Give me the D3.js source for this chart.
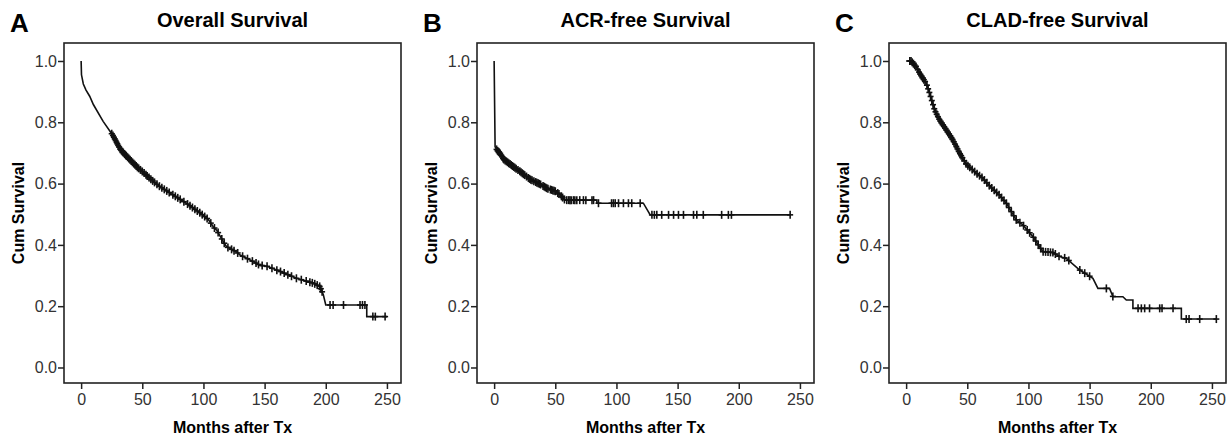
<!DOCTYPE html>
<meta charset="utf-8">
<html>
<head>
  <script src="https://d3js.org/d3.v7.min.js" charset="utf-8"></script>
</head>

<style>
* {
    font-family: "Liberation Sans", Arial, sans-serif;
}
body {
    margin: 0;
    background-color: white;
}
.tick text {
    font-size: 16px;
    fill: #333;
}
.tick line {
    stroke: #222;
    stroke-width: 1.5;
}
.frame {
    fill: none;
    stroke: #222;
    stroke-width: 1.6;
}
.curve {
    fill: none;
    stroke: #111;
    stroke-width: 1.6;
}
.censor {
    stroke: #111;
    stroke-width: 1.6;
}
.letter {
    font-size: 26px;
    font-weight: bold;
}
.title {
    font-size: 20px;
    font-weight: bold;
    text-anchor: middle;
}
.label {
    font-size: 16px;
    font-weight: bold;
    text-anchor: middle;
}
</style>

<body>
<div id="container"></div>

<script type="text/javascript">

// axis ticks
var monthTicks = [0, 50, 100, 150, 200, 250];
var survTicks = [0.0, 0.2, 0.4, 0.6, 0.8, 1.0];

var panelLetters = ["A", "B", "C"];
var panelTitles = ["Overall Survival", "ACR-free Survival", "CLAD-free Survival"];

// [months, cum survival]
var overallCurve = [[0, 1.0], [0.3, 0.955], [1.8, 0.925], [4, 0.905], [7, 0.885], [10, 0.858], [18, 0.803],
    [26, 0.757], [32, 0.712], [37, 0.69], [45.5, 0.655], [51, 0.636], [59, 0.607], [64.5, 0.59],
    [78, 0.556], [86, 0.536], [97, 0.505], [104, 0.483], [108, 0.459], [111, 0.447], [117.5, 0.402],
    [119, 0.394], [127, 0.377], [130, 0.367], [141, 0.345], [146, 0.334], [152, 0.33], [163, 0.313],
    [176, 0.291], [190, 0.275], [195.3, 0.264], [198, 0.237], [200, 0.204], [233.5, 0.204],
    [233.5, 0.166], [250, 0.166]];
var overallCensored = [25, 26, 26.8, 27.5, 28.2, 29, 29.6, 30.3, 31, 32, 33, 33.8, 34.5, 35.5, 36.3,
    37, 38, 39, 40, 41, 42, 43, 44, 45, 46, 47, 48.5, 50, 51.5, 53, 54, 55.5, 57, 58.5, 60, 62, 64,
    66, 68, 70, 72, 75, 77, 79, 81, 84, 87, 89, 91, 93, 95, 97, 99, 101, 103, 106, 109, 112, 115,
    117, 120, 123, 125, 128, 132, 136, 140, 143, 145, 148, 152, 156, 160, 163, 166, 169, 172, 176,
    180, 184, 187, 189, 191, 193, 195, 196, 197, 203.5, 206, 214.5, 228, 230, 232, 238.5, 240.5, 248.5];

var acrCurve = [[0, 1.0], [0.8, 0.72], [2.5, 0.708], [4.9, 0.699], [7.6, 0.68], [15.8, 0.655],
    [21, 0.64], [29.4, 0.614], [37.6, 0.598], [43, 0.585], [50, 0.575], [54, 0.563], [58, 0.546],
    [84, 0.546], [84, 0.536], [122, 0.536], [127.6, 0.498], [242, 0.498]];
var acrCensored = [2, 2.8, 3.5, 4.2, 5, 5.8, 6.5, 7.3, 8, 9, 10, 11, 12, 13, 14, 15, 16, 17, 18,
    19.5, 21, 22, 23, 24, 25, 26.5, 28, 29, 30, 31, 32.5, 34, 35, 36, 37, 38, 40, 41, 42, 43, 44,
    46, 47, 48, 49, 50, 52, 53, 55, 56, 57.5, 59.4, 61, 62, 63, 64.8, 66, 67.6, 70, 73, 75, 80,
    81.3, 85.3, 96, 97.5, 99, 101.7, 105.7, 109.8, 112.5, 119.4, 129, 131, 133, 137, 142.6, 146.7,
    150.7, 154.8, 163, 165.7, 171, 186, 191.5, 194, 242];

var cladCurve = [[0, 1.0], [4, 1.0], [8.3, 0.981], [11, 0.96], [16.5, 0.927], [19.2, 0.895],
    [23.3, 0.84], [27.4, 0.807], [32.9, 0.775], [38.3, 0.742], [43.8, 0.699], [49.2, 0.663],
    [57.4, 0.634], [62.8, 0.617], [68.3, 0.592], [76.4, 0.562], [81.9, 0.536], [90.1, 0.481],
    [95.5, 0.465], [103.7, 0.427], [108, 0.4], [111.9, 0.378], [120, 0.375], [125.5, 0.362],
    [131, 0.356], [141.9, 0.318], [152.7, 0.291], [156.8, 0.258], [166.3, 0.258], [169.1, 0.231],
    [177.2, 0.231], [180, 0.22], [185.4, 0.22], [185.4, 0.193], [225, 0.193], [225, 0.158],
    [253.6, 0.158]];
var cladCensored = [3, 4, 5, 6, 7, 8, 9.5, 10.5, 11.5, 12.5, 13.5, 14.5, 15.5, 17, 18, 19, 20, 21,
    22, 23, 24, 25, 26, 27, 28, 29, 30, 31, 32, 33, 34, 35, 36, 37, 38, 39, 40, 41, 42, 43, 44, 45,
    46, 47.5, 49, 50.5, 52, 54, 56, 58, 60, 62, 64, 66, 68, 70, 72, 74, 76, 78, 80, 82, 84, 86, 88,
    90, 93, 96, 99, 101, 104, 106, 108, 110, 112, 114, 116, 118, 120, 122, 125, 129.6, 133, 142,
    146, 150, 163.7, 169, 189.6, 192.3, 195, 199, 207.3, 209.2, 218.2, 229, 231.3, 240, 253.6];

var curves = [overallCurve, acrCurve, cladCurve];
var censored = [overallCensored, acrCensored, cladCensored];

var width = 1232;
var height = 438;
var frameTop = 43;
var frameW = 337;
var frameH = 340;
var frameLefts = [64, 477, 889];

const svg = d3.select("#container")
              .append("svg")
              .attr("width", width)
              .attr("height", height)

svg.append("rect")
   .attr("width", width)
   .attr("height", height)
   .attr("fill", "white")

// survival at time t, following the drawn line
function survAt(curve, t) {
    var i = d3.bisector((d) => d[0]).right(curve, t);
    if (i <= 0) return curve[0][1];
    if (i >= curve.length) return curve[curve.length - 1][1];
    var a = curve[i - 1], b = curve[i];
    if (b[0] === a[0]) return b[1];
    return a[1] + (b[1] - a[1]) * (t - a[0]) / (b[0] - a[0]);
}

panelTitles.forEach(function(title, i) {
    var left = frameLefts[i];

    var xScale = d3.scaleLinear()
                   .domain([-14, 261.5])
                   .range([left, left + frameW])

    var yScale = d3.scaleLinear()
                   .domain([-0.0506, 1.0587])
                   .range([frameTop + frameH, frameTop])

    var g = svg.append("g")

    var xAxis = d3.axisBottom(xScale).tickValues(monthTicks).tickSize(6).tickPadding(5)
    var yAxis = d3.axisLeft(yScale).tickValues(survTicks).tickSize(6).tickPadding(1)
                  .tickFormat(d3.format(".1f"))

    g.append("g")
     .attr("transform", "translate(0," + (frameTop + frameH) + ")")
     .call(xAxis)
     .call((s) => s.select(".domain").remove())

    g.append("g")
     .attr("transform", "translate(" + left + ",0)")
     .call(yAxis)
     .call((s) => s.select(".domain").remove())

    g.selectAll(".tick text").attr("font-size", null).attr("font-family", null)

    g.append("rect")
     .attr("class", "frame")
     .attr("x", left)
     .attr("y", frameTop)
     .attr("width", frameW)
     .attr("height", frameH)

    var line = d3.line()
                 .x((d) => xScale(d[0]))
                 .y((d) => yScale(d[1]))

    g.append("path")
     .datum(curves[i])
     .attr("class", "curve")
     .attr("d", line)

    // censor marks
    var marks = g.selectAll(".mark")
                 .data(censored[i])
                 .enter()
                 .append("g")
                 .attr("transform", (t) => "translate(" + xScale(t) + "," + yScale(survAt(curves[i], t)) + ")")

    marks.append("line")
         .attr("class", "censor")
         .attr("x1", 0).attr("x2", 0)
         .attr("y1", -4).attr("y2", 4)

    marks.append("line")
         .attr("class", "censor")
         .attr("x1", -3).attr("x2", 3)
         .attr("y1", 0).attr("y2", 0)

    // texts
    svg.append("text")
       .attr("class", "letter")
       .attr("x", left - 54)
       .attr("y", 32)
       .text(panelLetters[i]);

    svg.append("text")
       .attr("class", "title")
       .attr("x", left + frameW / 2)
       .attr("y", 27)
       .text(title);

    svg.append("text")
       .attr("class", "label")
       .attr("x", left + frameW / 2)
       .attr("y", 433)
       .text("Months after Tx");

    svg.append("text")
       .attr("class", "label")
       .attr("transform", "translate(" + (left - 40) + "," + (frameTop + frameH / 2) + ") rotate(-90)")
       .text("Cum Survival");
});
</script>
</body>
</html>
